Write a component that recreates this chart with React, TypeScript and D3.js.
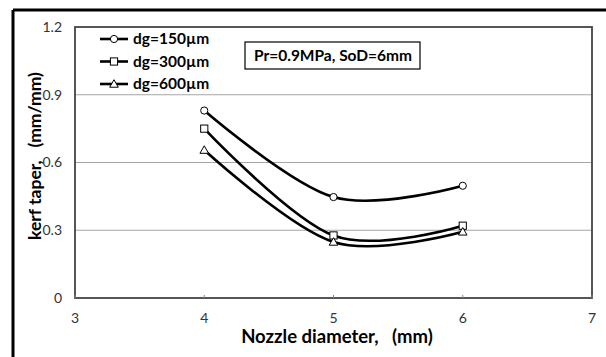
import React from "react";
import * as d3 from "d3";

const nozzle = [4, 5, 6];
const series150 = [0.83, 0.447, 0.497];
const series300 = [0.75, 0.277, 0.32];
const series600 = [0.655, 0.248, 0.293];
const seriesNames = ["dg=150µm", "dg=300µm", "dg=600µm"];
const seriesMarkers = ["circle", "square", "triangle"];
const yTicks = [0, 0.3, 0.6, 0.9, 1.2];
const xTicks = [3, 4, 5, 6, 7];
const annotation = "Pr=0.9MPa, SoD=6mm";
const xLabel = "Nozzle diameter,   (mm)";
const yLabel = "kerf taper,   (mm/mm)";

const W = 606, H = 357;
const plot = { left: 75, right: 592, top: 27, bottom: 298 };
const FONT = "Lato, 'Open Sans', sans-serif";

function Marker({ type, x, y }: { type: string; x: number; y: number }) {
  if (type === "circle") return <circle cx={x} cy={y} r={3.6} fill="#fff" stroke="#000" strokeWidth={1} />;
  if (type === "square") return <rect x={x - 3.6} y={y - 3.6} width={7.2} height={7.2} fill="#fff" stroke="#000" strokeWidth={1} />;
  const s = 4.3;
  return <path d={`M${x},${y - s} L${x + s},${y + s * 0.75} L${x - s},${y + s * 0.75} Z`} fill="#fff" stroke="#000" strokeWidth={1} />;
}

export default function App() {
  const x = d3.scaleLinear().domain([3, 7]).range([plot.left, plot.right]);
  const y = d3.scaleLinear().domain([0, 1.2]).range([plot.bottom, plot.top]);
  const allSeries = [series150, series300, series600];
  const line = d3
    .line<number>()
    .x((_, i) => x(nozzle[i]))
    .y((d) => y(d))
    .curve(d3.curveCatmullRom.alpha(0));

  return (
    <svg width={W} height={H} style={{ position: "absolute", left: 0, top: 0 }} fontFamily={FONT}>
      <rect x={0} y={0} width={W} height={H} fill="#fff" />
      <line x1={13} y1={10} x2={W} y2={10} stroke="#000" strokeWidth={3} />
      <line x1={13} y1={10} x2={13} y2={H} stroke="#000" strokeWidth={3} />

      {yTicks.filter((t) => t > 0 && t < 1.2).map((t) => (
        <line key={t} x1={plot.left} x2={plot.right} y1={y(t)} y2={y(t)} stroke="#a6a6a6" strokeWidth={1.2} />
      ))}
      <rect x={plot.left} y={plot.top} width={plot.right - plot.left} height={plot.bottom - plot.top} fill="none" stroke="#444" strokeWidth={1.8} />
      {xTicks.map((t) => (
        <line key={t} x1={x(t)} x2={x(t)} y1={plot.bottom} y2={plot.bottom - 3} stroke="#888" strokeWidth={1} />
      ))}

      {yTicks.map((t) => (
        <text key={t} x={62} y={y(t)} dy="0.35em" textAnchor="end" fontSize={14} fill="#333">
          {t === 0 ? "0" : t.toFixed(1)}
        </text>
      ))}
      {xTicks.map((t) => (
        <text key={t} x={x(t)} y={318} dy="0.35em" textAnchor="middle" fontSize={14} fill="#333">
          {t}
        </text>
      ))}

      <text x={337} y={343} textAnchor="middle" fontSize={18.5} fontWeight="bold" fill="#000" style={{ whiteSpace: "pre" }}>
        {xLabel}
      </text>
      <text transform={`translate(41,156) rotate(-90)`} textAnchor="middle" fontSize={17.5} fontWeight="bold" fill="#000" style={{ whiteSpace: "pre" }}>
        {yLabel}
      </text>

      {allSeries.map((s, k) => (
        <g key={k}>
          <path d={line(s) || ""} fill="none" stroke="#000" strokeWidth={2.6} />
          {s.map((v, i) => (
            <Marker key={i} type={seriesMarkers[k]} x={x(nozzle[i])} y={y(v)} />
          ))}
        </g>
      ))}

      {seriesNames.map((n, k) => {
        const ly = 39 + k * 22.5;
        return (
          <g key={n}>
            <line x1={100} x2={128} y1={ly} y2={ly} stroke="#000" strokeWidth={2.6} />
            <Marker type={seriesMarkers[k]} x={114} y={ly} />
            <text x={133} y={ly} dy="0.35em" fontSize={15.5} fontWeight="bold" fill="#000">
              {n}
            </text>
          </g>
        );
      })}

      <rect x={245} y={42} width={175} height={27} fill="#fff" stroke="#000" strokeWidth={1.2} />
      <text x={333} y={55.5} dy="0.35em" textAnchor="middle" fontSize={15.5} fontWeight="bold" fill="#000">
        {annotation}
      </text>
    </svg>
  );
}
